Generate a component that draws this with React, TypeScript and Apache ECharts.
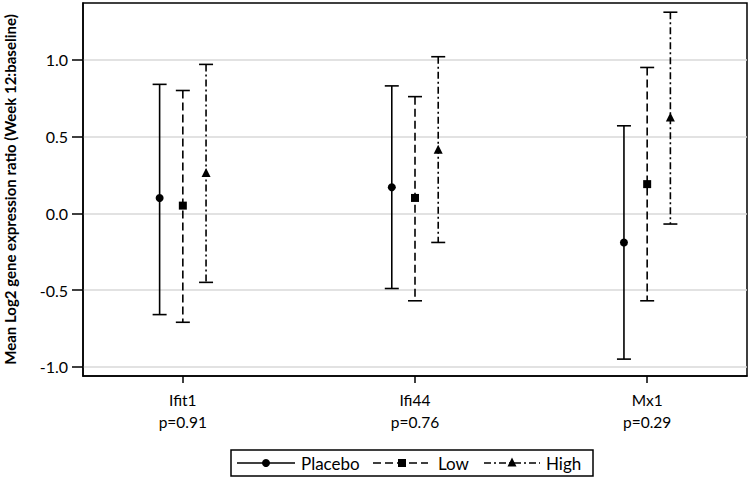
import React, { useEffect, useRef } from "react";
import * as echarts from "echarts";

const categories = ["Ifit1", "Ifi44", "Mx1"];
const pValues = ["p=0.91", "p=0.76", "p=0.29"];
const groups = ["Placebo", "Low", "High"];

const placeboMean = [0.1, 0.17, -0.19];
const placeboLower = [-0.66, -0.49, -0.95];
const placeboUpper = [0.84, 0.83, 0.57];

const lowMean = [0.05, 0.1, 0.19];
const lowLower = [-0.71, -0.57, -0.57];
const lowUpper = [0.8, 0.76, 0.95];

const highMean = [0.26, 0.41, 0.62];
const highLower = [-0.45, -0.19, -0.07];
const highUpper = [0.97, 1.02, 1.31];

const yTicks = [-1, -0.5, 0, 0.5, 1];
const xTicks = [0, 1, 2];

const FONT = "Lato";

const groupDefs = [
  { name: groups[0], mean: placeboMean, lo: placeboLower, hi: placeboUpper, offset: -0.1, dash: null as any, marker: "circle" },
  { name: groups[1], mean: lowMean, lo: lowLower, hi: lowUpper, offset: 0, dash: [8, 4], marker: "square" },
  { name: groups[2], mean: highMean, lo: highLower, hi: highUpper, offset: 0.1, dash: [7, 3, 2, 3], marker: "triangle" },
];

function markerShape(kind: string, x: number, y: number) {
  if (kind === "circle") {
    return { type: "circle", shape: { cx: x, cy: y, r: 4 }, style: { fill: "#000" } };
  }
  if (kind === "square") {
    return { type: "rect", shape: { x: x - 4, y: y - 4, width: 8, height: 8 }, style: { fill: "#000" } };
  }
  return {
    type: "polygon",
    shape: { points: [[x, y - 5.5], [x - 4.5, y + 3.5], [x + 4.5, y + 3.5]] },
    style: { fill: "#000" },
  };
}

function makeRender(offset: number, dash: any, marker: string) {
  return (params: any, api: any) => {
    const xv = api.value(0) + offset;
    const top = api.coord([xv, api.value(3)]);
    const bot = api.coord([xv, api.value(2)]);
    const mid = api.coord([xv, api.value(1)]);
    const x = top[0];
    const cap = 7;
    const lineStyle = { stroke: "#000", lineWidth: 1.6, lineDash: dash || undefined };
    return {
      type: "group",
      children: [
        { type: "line", shape: { x1: x, y1: top[1], x2: x, y2: bot[1] }, style: lineStyle },
        { type: "line", shape: { x1: x - cap, y1: top[1], x2: x + cap, y2: top[1] }, style: { stroke: "#000", lineWidth: 1.6 } },
        { type: "line", shape: { x1: x - cap, y1: bot[1], x2: x + cap, y2: bot[1] }, style: { stroke: "#000", lineWidth: 1.6 } },
        markerShape(marker, x, mid[1]),
      ],
    };
  };
}

function legendGraphic() {
  const cy = 463;
  const items = [
    { x1: 237, x2: 295, mx: 266, tx: 301, def: groupDefs[0] },
    { x1: 373, x2: 428, mx: 402, tx: 438, def: groupDefs[1] },
    { x1: 484, x2: 540, mx: 512, tx: 546, def: groupDefs[2] },
  ];
  const children: any[] = [
    { type: "rect", shape: { x: 231, y: 450, width: 362, height: 26 }, style: { fill: "none", stroke: "#000", lineWidth: 1.5 } },
  ];
  items.forEach((it) => {
    children.push({
      type: "line",
      shape: { x1: it.x1, y1: cy, x2: it.x2, y2: cy },
      style: { stroke: "#000", lineWidth: 1.6, lineDash: it.def.dash || undefined },
    });
    children.push(markerShape(it.def.marker, it.mx, cy));
    children.push({
      type: "text",
      x: it.tx,
      y: cy,
      style: { text: it.def.name, fill: "#000", font: `17px ${FONT}`, verticalAlign: "middle" },
    });
  });
  return [{ type: "group", children }];
}

export default function App() {
  const ref = useRef<HTMLDivElement>(null);
  useEffect(() => {
    document.body.style.margin = "0";
    const chart = echarts.init(ref.current!, null, { renderer: "svg" });
    chart.setOption({
      animation: false,
      backgroundColor: "#fff",
      grid: {
        left: 83,
        right: 3,
        top: 3,
        bottom: 103,
        show: true,
        borderColor: "#000",
        borderWidth: 1.5,
        backgroundColor: "transparent",
        containLabel: false,
        outerBoundsMode: "none",
      },
      xAxis: {
        type: "value",
        min: -0.43,
        max: 2.43,
        axisLine: { show: true, onZero: false, lineStyle: { color: "#000", width: 1.5 } },
        axisTick: { show: true, length: 7, customValues: xTicks, lineStyle: { color: "#000", width: 1.5 } },
        axisLabel: {
          customValues: xTicks,
          formatter: (v: number) => {
            const i = Math.round(v);
            return categories[i] + "\n" + pValues[i];
          },
          color: "#000",
          fontFamily: FONT,
          fontSize: 15.5,
          lineHeight: 22,
          margin: 13,
        },
        splitLine: { show: false },
      },
      yAxis: {
        type: "value",
        min: -1.06,
        max: 1.37,
        name: "Mean Log2 gene expression ratio (Week 12:baseline)",
        nameLocation: "middle",
        nameGap: 66,
        nameTextStyle: { fontFamily: FONT, fontSize: 15, fontWeight: "bold", color: "#000" },
        axisLine: { show: true, onZero: false, lineStyle: { color: "#000", width: 1.5 } },
        axisTick: { show: true, length: 11, customValues: yTicks, lineStyle: { color: "#000", width: 1.5 } },
        axisLabel: {
          customValues: yTicks,
          formatter: (v: number) => v.toFixed(1),
          color: "#000",
          fontFamily: FONT,
          fontSize: 16,
          margin: 15,
        },
        splitLine: { show: true, lineStyle: { color: "#d9d9d9", width: 1.5 } },
      },
      series: groupDefs.map((g) => ({
        type: "custom",
        name: g.name,
        renderItem: makeRender(g.offset, g.dash, g.marker),
        encode: { x: 0, y: [1, 2, 3] },
        data: categories.map((_, i) => [i, g.mean[i], g.lo[i], g.hi[i]]),
        clip: false,
      })),
      graphic: legendGraphic(),
    });
    return () => chart.dispose();
  }, []);
  return <div ref={ref} style={{ width: 750, height: 479 }} />;
}
